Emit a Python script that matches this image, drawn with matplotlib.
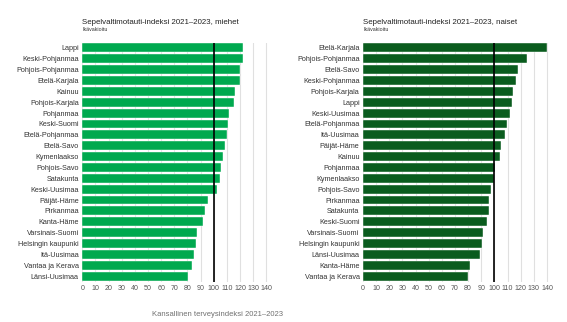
import matplotlib.pyplot as plt
import numpy as np

plt.rcParams['font.family'] = ['Liberation Sans', 'DejaVu Sans']

# miehet (men)
men_regions = ['Lappi', 'Keski-Pohjanmaa', 'Pohjois-Pohjanmaa', 'Etelä-Karjala', 'Kainuu',
               'Pohjois-Karjala', 'Pohjanmaa', 'Keski-Suomi', 'Etelä-Pohjanmaa', 'Etelä-Savo',
               'Kymenlaakso', 'Pohjois-Savo', 'Satakunta', 'Keski-Uusimaa', 'Päijät-Häme',
               'Pirkanmaa', 'Kanta-Häme', 'Varsinais-Suomi', 'Helsingin kaupunki', 'Itä-Uusimaa',
               'Vantaa ja Kerava', 'Länsi-Uusimaa']
men_values = [122.4, 121.9, 120.1, 120.0, 116.5, 115.3, 111.5, 110.7, 110.2, 108.4,
              107.1, 105.3, 105.0, 102.3, 95.9, 93.3, 92.0, 87.0, 86.7, 84.9, 83.2, 80.3]

# naiset (women)
women_regions = ['Etelä-Karjala', 'Pohjois-Pohjanmaa', 'Etelä-Savo', 'Keski-Pohjanmaa',
                 'Pohjois-Karjala', 'Lappi', 'Keski-Uusimaa', 'Etelä-Pohjanmaa', 'Itä-Uusimaa',
                 'Päijät-Häme', 'Kainuu', 'Pohjanmaa', 'Kymenlaakso', 'Pohjois-Savo', 'Pirkanmaa',
                 'Satakunta', 'Keski-Suomi', 'Varsinais-Suomi', 'Helsingin kaupunki',
                 'Länsi-Uusimaa', 'Kanta-Häme', 'Vantaa ja Kerava']
women_values = [139.9, 124.4, 118.2, 116.7, 114.2, 113.7, 112.0, 109.7, 107.9, 105.2,
                104.4, 100.2, 100.0, 97.0, 95.7, 95.7, 94.4, 91.6, 90.6, 89.1, 81.7, 79.7]

x_ticks = list(range(0, 150, 10))
reference = 100

W, H = 567, 322
fig = plt.figure(figsize=(W / 100, H / 100), dpi=100)


def panel(left_px, regions, values, color, title):
    ax = fig.add_axes([left_px / W, (H - 281.5) / H, 188 / W, 239 / H])
    y = np.arange(len(regions))
    ax.set_axisbelow(True)
    ax.grid(axis='x', color='#e0e0e0', linewidth=0.8)
    ax.barh(y, values, height=0.82, color=color, edgecolor='#ffffff', linewidth=0.3)
    ax.axvline(reference, color='black', linewidth=1.2, zorder=3)
    ax.set_xlim(0, 143)
    ax.set_ylim(len(regions) - 0.5, -0.5)
    ax.set_yticks(y)
    ax.set_yticklabels(regions, fontsize=5.2, color='#333333')
    ax.set_xticks(x_ticks)
    ax.set_xticklabels([str(t) for t in x_ticks], fontsize=5.1, color='#555555')
    ax.tick_params(length=0, pad=2.5)
    ax.tick_params(axis='x', pad=2.3)
    for s in ax.spines.values():
        s.set_visible(False)
    fig.text(left_px / W, 1 - 22 / H, title, fontsize=5.7, color='#222222', va='center')
    fig.text(left_px / W, 1 - 29.5 / H, 'Ikävakioitu', fontsize=3.8, color='#333333', va='center')
    return ax


panel(82.3, men_regions, men_values, '#00a94f', 'Sepelvaltimotauti-indeksi 2021–2023, miehet')
panel(363, women_regions, women_values, '#0a5c1e', 'Sepelvaltimotauti-indeksi 2021–2023, naiset')

fig.text(152 / W, 1 - 314 / H, 'Kansallinen terveysindeksi 2021–2023', fontsize=5.5,
         color='#707070', va='center')

fig.savefig('out.png', dpi=100)
